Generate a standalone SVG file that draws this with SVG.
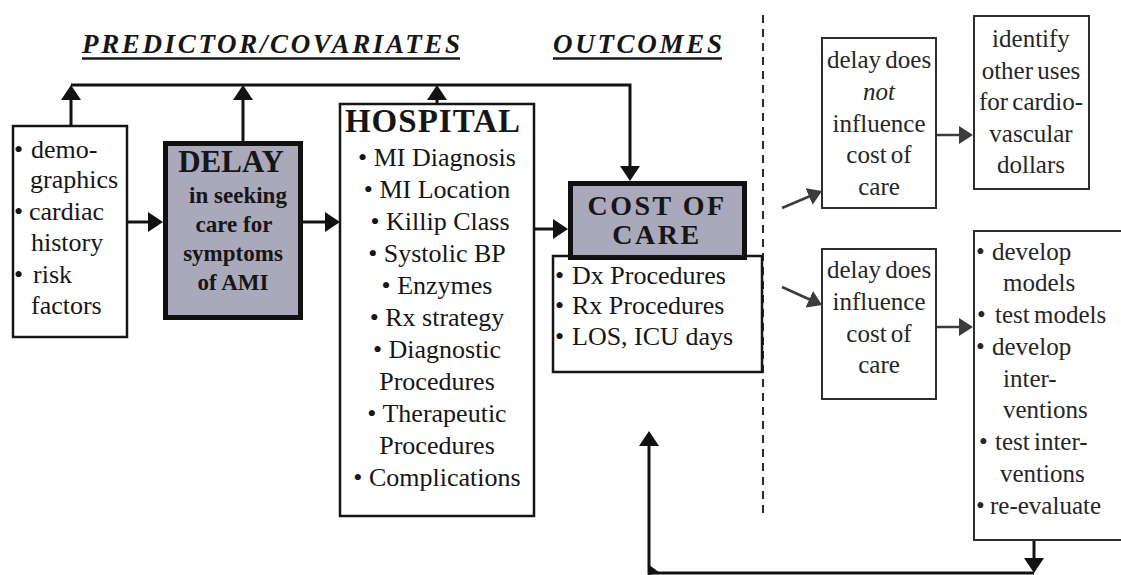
<svg xmlns="http://www.w3.org/2000/svg" width="1121" height="575" viewBox="0 0 1121 575">
  <style>
    text { font-family: "Liberation Serif", "Times New Roman", serif; fill: #161616; }
    .head { font-weight: bold; font-style: italic; font-size: 27px; }
    .big { font-weight: bold; }
    .item { font-size: 26px; }
    .c { text-anchor: middle; }
    .side { font-size: 25px; fill: #262626; word-spacing: -2px; }
    .box { fill: #ffffff; stroke: #151515; stroke-width: 2.5; }
    .keybox { fill: #aaa8bb; stroke: #111111; stroke-width: 5; }
    .sidebox { fill: #ffffff; stroke: #2e2e2e; stroke-width: 2; }
    .wire { fill: none; stroke: #121212; stroke-width: 3; }
    .grey { fill: none; stroke: #3c3c3c; stroke-width: 2.5; }
    .rule { stroke: #1a1a1a; stroke-width: 2.5; }
  </style>
  <defs>
    <marker id="tip" markerUnits="userSpaceOnUse" markerWidth="16" markerHeight="20" refX="10" refY="10" orient="auto">
      <path d="M0,0 L15,10 L0,20 z" fill="#121212"/>
    </marker>
    <marker id="tipGrey" markerUnits="userSpaceOnUse" markerWidth="15" markerHeight="18" refX="9" refY="9" orient="auto">
      <path d="M0,0 L14,9 L0,18 z" fill="#3c3c3c"/>
    </marker>
  </defs>

  <rect width="1121" height="575" fill="#ffffff"/>

  <!-- section headings -->
  <g id="headings">
    <text class="head" x="82" y="53" textLength="378" lengthAdjust="spacing">PREDICTOR/COVARIATES</text>
    <line class="rule" x1="82" y1="58.5" x2="460" y2="58.5"/>
    <text class="head" x="553" y="53" textLength="169" lengthAdjust="spacing">OUTCOMES</text>
    <line class="rule" x1="553" y1="58.5" x2="722" y2="58.5"/>
  </g>

  <!-- dashed divider -->
  <line id="divider" x1="763" y1="15" x2="763" y2="514" stroke="#2a2a2a" stroke-width="2" stroke-dasharray="8 6"/>

  <!-- patient factors -->
  <g id="node-patient">
    <rect class="box" x="13" y="126" width="114" height="211"/>
    <text class="item" x="14" y="158">•</text><text class="item" x="31" y="158">demo-</text>
    <text class="item" x="30" y="188">graphics</text>
    <text class="item" x="14" y="220">•</text><text class="item" x="29" y="220">cardiac</text>
    <text class="item" x="31" y="251">history</text>
    <text class="item" x="14" y="283">•</text><text class="item" x="33" y="283">risk</text>
    <text class="item" x="31" y="314">factors</text>
  </g>

  <!-- delay -->
  <g id="node-delay">
    <rect class="keybox" x="165.5" y="143.5" width="135" height="174"/>
    <text class="big c" x="231" y="172" font-size="31">DELAY</text>
    <text class="big c" x="238" y="203" font-size="23">in seeking</text>
    <text class="big c" x="234" y="232" font-size="23">care for</text>
    <text class="big c" x="233" y="261" font-size="23">symptoms</text>
    <text class="big c" x="233" y="290" font-size="23">of AMI</text>
  </g>

  <!-- hospital -->
  <g id="node-hospital">
    <rect class="box" x="340" y="104" width="194" height="412"/>
    <text class="big c" x="433" y="132" font-size="33" letter-spacing="1">HOSPITAL</text>
    <text class="item c" x="437" y="166">• MI Diagnosis</text>
    <text class="item c" x="437" y="198">• MI Location</text>
    <text class="item c" x="440" y="230">• Killip Class</text>
    <text class="item c" x="437" y="262">• Systolic BP</text>
    <text class="item c" x="437" y="294">• Enzymes</text>
    <text class="item c" x="437" y="326">• Rx strategy</text>
    <text class="item c" x="437" y="358">• Diagnostic</text>
    <text class="item c" x="437" y="390">Procedures</text>
    <text class="item c" x="437" y="422">• Therapeutic</text>
    <text class="item c" x="437" y="454">Procedures</text>
    <text class="item c" x="437" y="486">• Complications</text>
  </g>

  <!-- cost of care and its measures -->
  <g id="node-measures">
    <rect class="box" x="553" y="256" width="209" height="116"/>
    <text class="item" x="555" y="284">•</text><text class="item" x="572" y="284">Dx Procedures</text>
    <text class="item" x="555" y="314">•</text><text class="item" x="572" y="314">Rx Procedures</text>
    <text class="item" x="555" y="345">•</text><text class="item" x="572" y="345">LOS, ICU days</text>
  </g>
  <g id="node-cost">
    <rect class="keybox" x="570.5" y="183.5" width="174" height="74"/>
    <text class="big c" x="657" y="215" font-size="28" letter-spacing="2.5">COST OF</text>
    <text class="big c" x="657" y="244" font-size="28" letter-spacing="2.5">CARE</text>
  </g>

  <!-- interpretation, no effect -->
  <g id="node-no-effect">
    <rect class="sidebox" x="822" y="38" width="114" height="170"/>
    <text class="side c" x="879" y="68">delay does</text>
    <text class="side c" x="879" y="100" font-style="italic">not</text>
    <text class="side c" x="879" y="132">influence</text>
    <text class="side c" x="879" y="163">cost of</text>
    <text class="side c" x="879" y="195">care</text>
  </g>
  <g id="node-other-uses">
    <rect class="sidebox" x="974" y="16" width="115" height="173"/>
    <text class="side c" x="1031" y="47">identify</text>
    <text class="side c" x="1031" y="79">other uses</text>
    <text class="side c" x="1031" y="110">for cardio-</text>
    <text class="side c" x="1031" y="142">vascular</text>
    <text class="side c" x="1031" y="173">dollars</text>
  </g>

  <!-- interpretation, effect -->
  <g id="node-effect">
    <rect class="sidebox" x="822" y="249" width="114" height="150"/>
    <text class="side c" x="879" y="278">delay does</text>
    <text class="side c" x="879" y="310">influence</text>
    <text class="side c" x="879" y="342">cost of</text>
    <text class="side c" x="879" y="373">care</text>
  </g>
  <g id="node-actions">
    <rect class="sidebox" x="974" y="231" width="150" height="309"/>
    <text class="side" x="976" y="260">•</text><text class="side" x="992" y="260">develop</text>
    <text class="side" x="1003" y="291">models</text>
    <text class="side" x="977" y="323">•</text><text class="side" x="995" y="323">test models</text>
    <text class="side" x="976" y="355">•</text><text class="side" x="992" y="355">develop</text>
    <text class="side" x="1003" y="387">inter-</text>
    <text class="side" x="1003" y="418">ventions</text>
    <text class="side" x="979" y="450">•</text><text class="side" x="995" y="450">test inter-</text>
    <text class="side" x="1000" y="482">ventions</text>
    <text class="side" x="976" y="514">•</text><text class="side" x="990" y="514">re-evaluate</text>
  </g>

  <!-- connectors -->
  <g id="connectors">
    <path class="wire" d="M71,85 H630 V176" marker-end="url(#tip)"/>
    <path class="wire" d="M71,126 V90" marker-end="url(#tip)"/>
    <path class="wire" d="M243,142 V90" marker-end="url(#tip)"/>
    <path class="wire" d="M437,104 V90" marker-end="url(#tip)"/>
    <path class="wire" d="M127,222 H158" marker-end="url(#tip)"/>
    <path class="wire" d="M303,222 H335" marker-end="url(#tip)"/>
    <path class="wire" d="M534,229 H563" marker-end="url(#tip)"/>

    <path class="grey" d="M782,208 L817.4,193" marker-end="url(#tipGrey)"/>
    <path class="grey" d="M782,287 L817.5,303" marker-end="url(#tipGrey)"/>
    <path class="grey" d="M937,135 H968" marker-end="url(#tipGrey)"/>
    <path class="grey" d="M937,327 H968" marker-end="url(#tipGrey)"/>

    <path class="wire" d="M1034,541 V568" marker-end="url(#tip)"/>
    <path class="wire" d="M1034,573 H649 V436" marker-end="url(#tip)"/>
    <path d="M648,564 L660,573 L648,575 z" fill="#121212"/>
  </g>
</svg>
